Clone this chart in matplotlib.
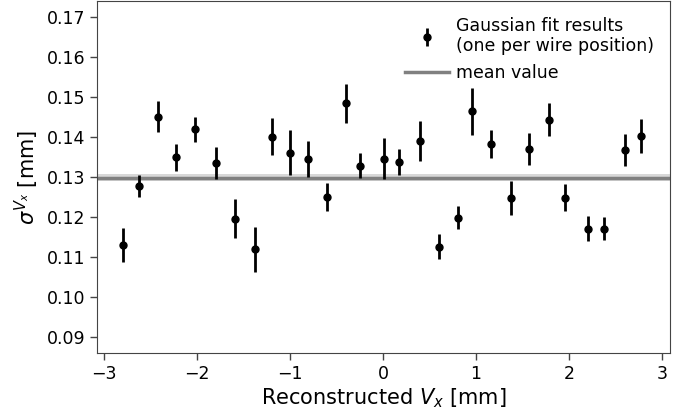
import matplotlib
matplotlib.use("Agg")
import matplotlib.pyplot as plt
import numpy as np

x_pos = [-2.796, -2.627, -2.420, -2.226, -2.025, -1.796, -1.588, -1.373, -1.190, -1.004,
         -0.810, -0.598, -0.398, -0.244, 0.014, 0.172, 0.398, 0.606, 0.810, 0.960,
         1.161, 1.376, 1.573, 1.785, 1.957, 2.200, 2.380, 2.602, 2.774]
sigma = [0.1130, 0.1278, 0.1451, 0.1349, 0.1419, 0.1334, 0.1196, 0.1119, 0.1401, 0.1361,
         0.1345, 0.1250, 0.1484, 0.1328, 0.1346, 0.1338, 0.1390, 0.1126, 0.1198, 0.1464,
         0.1382, 0.1248, 0.1370, 0.1443, 0.1248, 0.1171, 0.1171, 0.1367, 0.1402]
sigma_err = [0.0043, 0.0028, 0.0038, 0.0033, 0.0032, 0.0040, 0.0048, 0.0056, 0.0046, 0.0057,
             0.0044, 0.0034, 0.0049, 0.0031, 0.0052, 0.0032, 0.0051, 0.0031, 0.0029, 0.0058,
             0.0035, 0.0043, 0.0041, 0.0041, 0.0034, 0.0032, 0.0028, 0.0040, 0.0043]
mean_value = 0.1298
mean_err = 0.0009

fig = plt.figure(figsize=(6.93, 4.12), dpi=100)
ax = fig.add_axes([0.14, 0.1432, 0.8268, 0.8544])

ax.axhspan(mean_value - mean_err, mean_value + mean_err, color="grey", alpha=0.3, lw=0)
ax.axhline(mean_value, color="grey", lw=2.5, label="mean value")
ax.errorbar(x_pos, sigma, yerr=sigma_err, fmt="o", color="black", ms=5, elinewidth=2,
            capsize=0, label="Gaussian fit results\n(one per wire position)")

ax.set_xlim(-3.075, 3.085)
ax.set_ylim(0.086, 0.174)
ax.set_xticks([-3, -2, -1, 0, 1, 2, 3])
ax.set_yticks([0.09, 0.10, 0.11, 0.12, 0.13, 0.14, 0.15, 0.16, 0.17])
ax.yaxis.set_major_formatter(matplotlib.ticker.FormatStrFormatter("%.2f"))
ax.tick_params(labelsize=12.5, length=5, width=1, color="#444444")
for sp in ax.spines.values():
    sp.set_color("#444444")
ax.set_xlabel(r"Reconstructed $V_x$ [mm]", fontsize=15, labelpad=2.5)
ax.set_ylabel(r"$\sigma^{V_x}$ [mm]", fontsize=15)

handles, labels = ax.get_legend_handles_labels()
ax.legend(handles[::-1], labels[::-1], loc="upper right", frameon=False, fontsize=12.5,
          handlelength=2.5, handletextpad=0.45)

fig.savefig("out.png", dpi=100)
